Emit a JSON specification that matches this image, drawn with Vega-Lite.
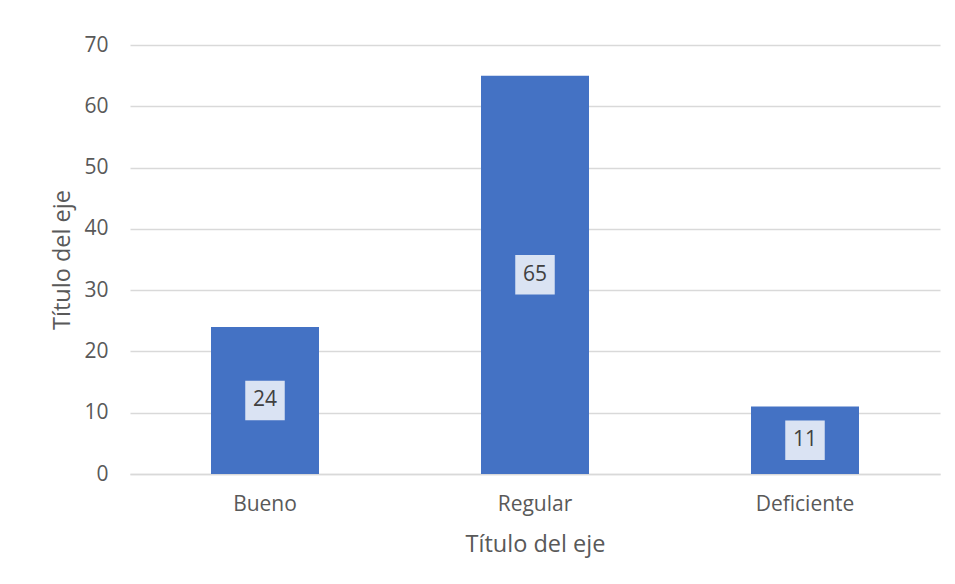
{
  "$schema": "https://vega.github.io/schema/vega-lite/v6.json",
  "autosize": "none",
  "width": 810,
  "height": 429,
  "padding": {"left": 130, "top": 45, "right": 15, "bottom": 110},
  "background": "white",
  "config": {
    "view": {"stroke": null},
    "font": "Open Sans",
    "axis": {"labelFont": "Open Sans", "titleFont": "Open Sans", "labelColor": "#595959", "titleColor": "#595959", "titleFontWeight": "normal"}
  },
  "data": {
    "values": [
      {"categoria": "Bueno", "valor": 24},
      {"categoria": "Regular", "valor": 65},
      {"categoria": "Deficiente", "valor": 11}
    ]
  },
  "encoding": {
    "x": {
      "field": "categoria",
      "type": "nominal",
      "sort": null,
      "scale": {"paddingInner": 0.6, "paddingOuter": 0.3},
      "axis": {
        "title": "Título del eje",
        "labelAngle": 0,
        "labelFontSize": 21,
        "titleFontSize": 23.5,
        "labelPadding": 19,
        "titlePadding": 18,
        "ticks": false,
        "domainColor": "#d9d9d9",
        "domainWidth": 1.5
      }
    }
  },
  "layer": [
    {
      "mark": {"type": "bar", "color": "#4472C4"},
      "encoding": {
        "y": {
          "field": "valor",
          "type": "quantitative",
          "scale": {"domain": [0, 70]},
          "axis": {
            "title": "Título del eje",
            "values": [0, 10, 20, 30, 40, 50, 60, 70],
            "labelOverlap": false,
            "labelFontSize": 21,
            "titleFontSize": 23.5,
            "labelPadding": 22,
            "titlePadding": 9,
            "ticks": false,
            "domain": false,
            "gridColor": "#d9d9d9",
            "gridWidth": 1.5
          }
        }
      }
    },
    {
      "layer": [
        {
          "mark": {"type": "point", "shape": "square", "filled": true, "size": 1560, "color": "#dae3f3", "opacity": 1}
        },
        {
          "mark": {"type": "text", "fontSize": 21, "color": "#404040", "baseline": "middle", "font": "Open Sans"},
          "encoding": {"text": {"field": "valor", "type": "quantitative"}}
        }
      ],
      "encoding": {
        "y": {
          "field": "valor",
          "type": "quantitative",
          "scale": {"domain": [0, 140]},
          "axis": null
        }
      }
    }
  ],
  "resolve": {"scale": {"y": "independent"}}
}
